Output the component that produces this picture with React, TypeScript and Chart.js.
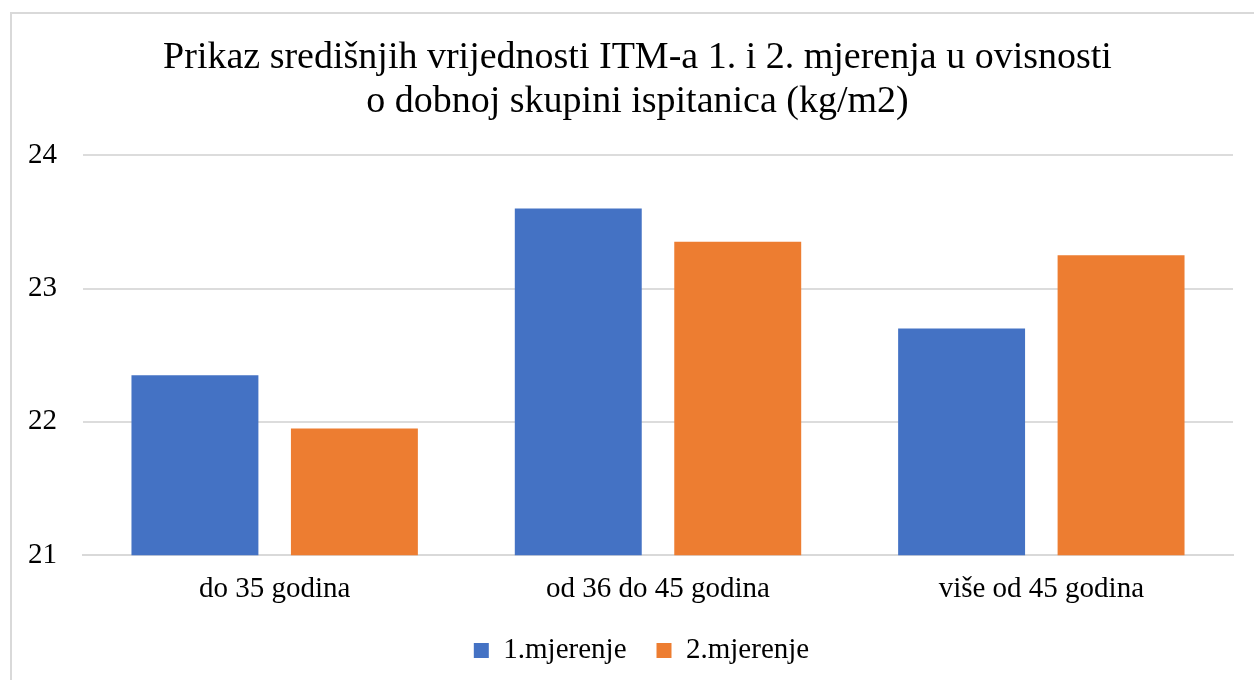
import React, { useEffect, useRef } from "react";
import { Chart, registerables } from "chart.js";

Chart.register(...registerables);

const titleLines = [
  "Prikaz središnjih vrijednosti ITM-a 1. i 2. mjerenja u ovisnosti",
  "o dobnoj skupini ispitanica (kg/m2)",
];
const categories = ["do 35 godina", "od 36 do 45 godina", "više od 45 godina"];
const series1Label = "1.mjerenje";
const series2Label = "2.mjerenje";
const series1 = [22.35, 23.6, 22.7];
const series2 = [21.95, 23.35, 23.25];
const yMin = 21;
const yMax = 24;
const yStep = 1;

const FONT = "'Liberation Serif', 'Times New Roman', serif";

const shiftBlocks = {
  id: "shiftBlocks",
  afterLayout(chart: any) {
    if (chart.titleBlock) chart.titleBlock.left += 30;
    if (chart.legend) chart.legend.left += 38;
  },
};

export default function App() {
  const ref = useRef<HTMLCanvasElement | null>(null);
  useEffect(() => {
    if (!ref.current) return;
    const chart = new Chart(ref.current, {
      type: "bar",
      data: {
        labels: categories,
        datasets: [
          { label: series1Label, data: series1, backgroundColor: "#4472C4" },
          { label: series2Label, data: series2, backgroundColor: "#ED7D31" },
        ],
      },
      plugins: [shiftBlocks],
      options: {
        animation: false,
        responsive: false,
        maintainAspectRatio: false,
        layout: { padding: { left: 0, right: 21, top: 0, bottom: 5 } },
        datasets: { bar: { categoryPercentage: 0.832, barPercentage: 0.796 } },
        plugins: {
          title: {
            display: true,
            text: titleLines,
            color: "#000",
            font: { family: FONT, size: 38, weight: "normal", lineHeight: 1.16 },
            padding: { top: 22, bottom: 31 },
          },
          legend: {
            position: "bottom",
            labels: {
              color: "#000",
              font: { family: FONT, size: 29 },
              boxWidth: 15,
              boxHeight: 15,
              padding: 30,
            },
          },
          tooltip: { enabled: false },
        },
        scales: {
          x: {
            grid: { display: false, drawTicks: false },
            border: { display: true, color: "#d9d9d9", width: 2 },
            ticks: { color: "#000", font: { family: FONT, size: 29 }, padding: 17 },
            afterFit: (s: any) => { s.height = s.height - 18; },
          },
          y: {
            min: yMin,
            max: yMax,
            ticks: { stepSize: yStep, color: "#000", font: { family: FONT, size: 29 }, padding: 26 },
            grid: { color: "#dcdcdc", lineWidth: 2, drawTicks: false },
            border: { display: false },
            afterFit: (s: any) => { s.width = 71; },
          },
        },
      },
    });
    return () => chart.destroy();
  }, []);
  return (
    <div style={{ position: "fixed", left: 0, top: 0, width: 1254, height: 680, overflow: "hidden", background: "#fff" }}>
      <div style={{ position: "absolute", left: 10, top: 12, width: 1300, height: 720, border: "2px solid #d9d9d9", boxSizing: "border-box" }}>
        <canvas ref={ref} width={1242} height={666} style={{ display: "block" }} />
      </div>
    </div>
  );
}
